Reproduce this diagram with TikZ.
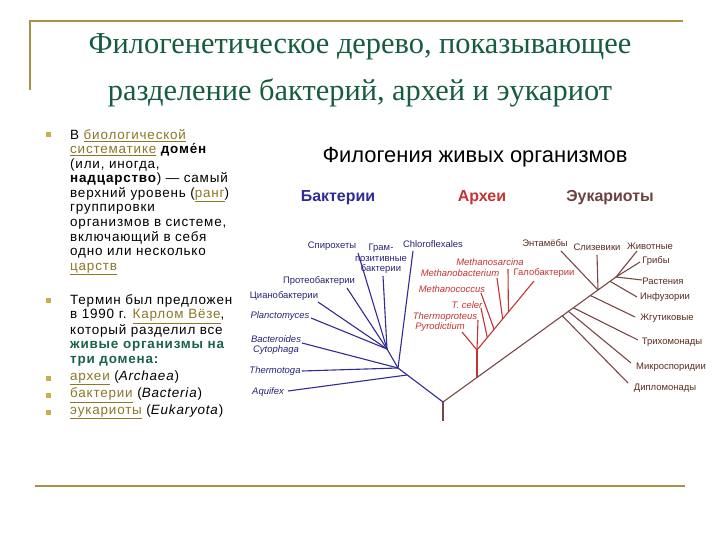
\documentclass[tikz,border=0pt]{standalone}
\usepackage{fontspec}
\setmainfont{Liberation Sans}
\newfontfamily\titlefont{Liberation Serif}
\newfontfamily\bodyfont[LetterSpace=6]{Liberation Sans}

\definecolor{gold}{RGB}{165,148,70}
\definecolor{bulletc}{RGB}{200,176,72}
\definecolor{linkc}{RGB}{140,118,40}
\definecolor{titlec}{RGB}{22,92,62}
\definecolor{boldgreen}{RGB}{25,100,70}
\definecolor{bactc}{RGB}{48,44,150}
\definecolor{bacttext}{RGB}{40,36,120}
\definecolor{archc}{RGB}{196,52,52}
\definecolor{eukc}{RGB}{120,72,70}
\definecolor{euktext}{RGB}{92,44,32}

\newcommand{\lnk}[1]{\textcolor{linkc}{\underline{#1}}}

\tikzset{
  ttl/.style={font=\titlefont\fontsize{30.5}{32}\selectfont, text=titlec, inner sep=0pt},
  para/.style={font=\bodyfont\fontsize{13.5}{14.6}\selectfont, align=left, anchor=north west, inner sep=0pt},
  sq/.style={fill=bulletc, minimum size=5bp, inner sep=0pt},
  lab/.style={font=\fontsize{9.5}{10.5}\selectfont, inner sep=0pt, align=center},
  ilab/.style={font=\itshape\fontsize{9.5}{10.5}\selectfont},
  blab/.style={lab, text=bacttext},
  alab/.style={lab, text=archc},
  elab/.style={lab, text=euktext},
  bline/.style={draw=bactc, line width=1.1bp},
  aline/.style={draw=archc, line width=1.1bp},
  eline/.style={draw=eukc, line width=1.1bp},
  head/.style={font=\bfseries\fontsize{16}{18}\selectfont, inner sep=0pt}
}

\begin{document}
\begin{tikzpicture}[x=1bp, y=-1bp]
  \useasboundingbox[fill=white] (0,0) rectangle (720,540);

  % frame
  \draw[gold, line width=1.6bp] (30,90) -- (30,21) -- (683,21);
  \draw[gold, line width=2bp] (35,486) -- (685,486);

  \node[ttl] (title1) at (360,47) {Филогенетическое дерево, показывающее};
  \node[ttl] (title2) at (360,93) {разделение бактерий, архей и эукариот};

  % left column
  \node[sq] (sq1) at (48,135) {};
  \node[para] (p1) at (70,129) {В \lnk{биологической}\\
    \lnk{систематике} \textbf{доме́н}\\
    (или, иногда,\\
    \textbf{надцарство}) — самый\\
    верхний уровень (\lnk{ранг})\\
    группировки\\
    организмов в системе,\\
    включающий в себя\\
    одно или несколько\\
    \lnk{царств}};
  \node[sq] (sq2) at (48,300) {};
  \node[para] (p2) at (70,294) {Термин был предложен\\
    в 1990 г. \lnk{Карлом Вёзе},\\
    который разделил все\\
    \textcolor{boldgreen}{\textbf{живые организмы на}}\\
    \textcolor{boldgreen}{\textbf{три домена:}}};
  \node[sq] (sq3) at (48,378) {};
  \node[para, anchor=west] (p3) at (70,378) {\lnk{археи} (\textit{Archaea})};
  \node[sq] (sq4) at (48,395) {};
  \node[para, anchor=west] (p4) at (70,395) {\lnk{бактерии} (\textit{Bacteria})};
  \node[sq] (sq5) at (48,412) {};
  \node[para, anchor=west] (p5) at (70,412) {\lnk{эукариоты} (\textit{Eukaryota})};

  % tree headings
  \node[font=\fontsize{22}{24}\selectfont, inner sep=0pt] (phylo) at (475,157) {Филогения живых организмов};
  \node[head, text=bactc] (hbact) at (338,198) {Бактерии};
  \node[head, text=archc] (harch) at (482,198) {Археи};
  \node[head, text=eukc!90!black] (heuk) at (610,198) {Эукариоты};

  % branch points
  \coordinate (base) at (443,421);
  \coordinate (root) at (443,402);
  \coordinate (aq) at (407,375);
  \coordinate (b0) at (398,368);
  \coordinate (b1) at (387,349);
  \coordinate (a0) at (477,377);
  \coordinate (a1) at (477,350);
  \coordinate (c1) at (487.3,337.6);
  \coordinate (c2) at (494.1,329.3);
  \coordinate (c3) at (502.7,319);
  \coordinate (c4) at (508.4,312);
  \coordinate (d1) at (562,315.5);
  \coordinate (d2) at (568,311);
  \coordinate (d3) at (573,307.6);
  \coordinate (d4) at (590,295.3);
  \coordinate (e0) at (598,290);
  \coordinate (e2) at (610,281.3);
  \coordinate (e1) at (616,277);

  % bacteria
  \node[blab, ilab] (aquifex) at (268,392) {Aquifex};
  \node[blab, ilab] (thermotoga) at (275,371) {Thermotoga};
  \node[blab, ilab] (bacteroides) at (276,345) {Bacteroides\\Cytophaga};
  \node[blab, ilab] (plancto) at (280,316) {Planctomyces};
  \node[blab] (cyano) at (284,296) {Цианобактерии};
  \node[blab] (proteo) at (319,281) {Протеобактерии};
  \node[blab] (spiro) at (332,246) {Спирохеты};
  \node[blab] (gram) at (381,259) {Грам-\\позитивные\\бактерии};
  \node[blab] (chloro) at (433,244) {Chloroflexales};
  \coordinate (taq) at (288,391);
  \coordinate (tthe) at (302,371);
  \coordinate (tbac) at (302,343);
  \coordinate (tpla) at (311,318);
  \coordinate (tcya) at (318,302);
  \coordinate (tpro) at (347,288);
  \coordinate (tspi) at (358,253);
  \coordinate (tgra) at (383,276);
  \coordinate (tchl) at (413,251);

  \draw[eline] (base) -- (root);
  \draw[bline] (root) -- (b0);
  \draw[bline] (aq) -- (taq);
  \draw[bline] (b0) -- (tthe);
  \draw[bline] (b0) -- (tbac);
  \draw[bline] (b0) -- (tchl);
  \draw[bline] (b0) -- (b1);
  \draw[bline] (b1) -- (tpla);
  \draw[bline] (b1) -- (tcya);
  \draw[bline] (b1) -- (tpro);
  \draw[bline] (b1) -- (tspi);
  \draw[bline] (b1) -- (tgra);

  % archaea
  \node[alab, ilab] (sarcina) at (490,262) {Methanosarcina};
  \node[alab, ilab] (mbact) at (460,273) {Methanobacterium};
  \node[alab] (halo) at (544,273) {Галобактерии};
  \node[alab, ilab] (coccus) at (452,289) {Methanococcus};
  \node[alab, ilab] (celer) at (467,305) {T. celer};
  \node[alab, ilab] (tproteus) at (445,317) {Thermoproteus};
  \node[alab, ilab] (pyro) at (440,327) {Pyrodictium};
  \coordinate (tsar) at (508,269);
  \coordinate (tmba) at (497,278);
  \coordinate (thal) at (534,281);
  \coordinate (tcoc) at (481,293);
  \coordinate (tcel) at (481,308);
  \coordinate (tthp) at (478,320);
  \coordinate (tpyr) at (462,332);

  \draw[aline] (a0) -- (a1);
  \draw[aline] (a1) -- (tpyr);
  \draw[aline] (a1) -- (tthp);
  \draw[aline] (a1) -- (thal);
  \draw[aline] (c1) -- (tcel);
  \draw[aline] (c2) -- (tcoc);
  \draw[aline] (c3) -- (tmba);
  \draw[aline] (c4) -- (tsar);

  % eukaryotes
  \node[elab] (entam) at (545,243) {Энтамёбы};
  \node[elab] (slime) at (597,247) {Слизевики};
  \node[elab] (animal) at (650,246) {Животные};
  \node[elab] (fungi) at (656,261) {Грибы};
  \node[elab] (plant) at (663,281) {Растения};
  \node[elab] (cilia) at (665,297) {Инфузории};
  \node[elab] (flag) at (667,318) {Жгутиковые};
  \node[elab] (tricho) at (672,342) {Трихомонады};
  \node[elab] (micro) at (671,367) {Микроспоридии};
  \node[elab] (diplo) at (665,388) {Дипломонады};
  \coordinate (tent) at (561,251);
  \coordinate (tsli) at (597,255);
  \coordinate (tani) at (637,251);
  \coordinate (tfun) at (640,262);
  \coordinate (tpla2) at (642,280);
  \coordinate (tcil) at (637,297);
  \coordinate (tfla) at (635,317);
  \coordinate (ttri) at (638,340);
  \coordinate (tmic) at (631,363);
  \coordinate (tdip) at (628,383);

  \draw[eline] (root) -- (e0) -- (e1);
  \draw[eline] (d1) -- (tdip);
  \draw[eline] (d2) -- (tmic);
  \draw[eline] (d3) -- (ttri);
  \draw[eline] (d4) -- (tfla);
  \draw[eline] (e0) -- (tent);
  \draw[eline] (e0) -- (tsli);
  \draw[eline] (e2) -- (tcil);
  \draw[eline] (e1) -- (tani);
  \draw[eline] (e1) -- (tfun);
  \draw[eline] (e1) -- (tpla2);
\end{tikzpicture}
\end{document}
